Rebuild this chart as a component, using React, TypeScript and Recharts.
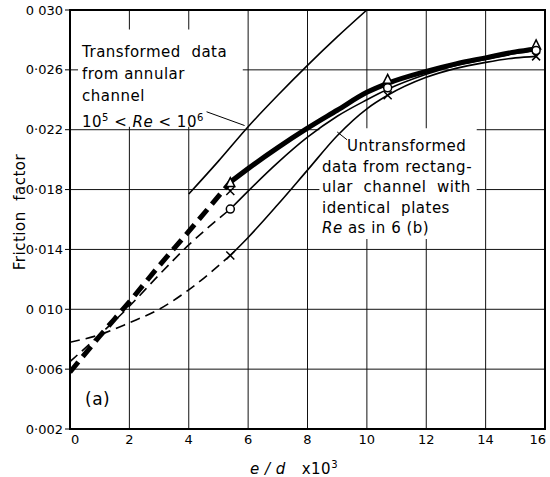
import React from 'react'
import {
  ComposedChart,
  Line,
  Scatter,
  XAxis,
  YAxis,
  CartesianGrid,
  ReferenceArea,
  ReferenceLine,
} from 'recharts'

const xTicks = [0, 2, 4, 6, 8, 10, 12, 14, 16]
const yTicks = [0.002, 0.006, 0.01, 0.014, 0.018, 0.022, 0.026, 0.03]
const yTickLabels = ['0·002', '0·006', '0 010', '0·014', '0·018', '0·022', '0·026', '0 030']

// transformed data, annular channel
const annularX = [4, 5, 6, 7, 8, 9, 10]
const annularY = [0.0177, 0.0199, 0.0222, 0.0243, 0.0263, 0.0282, 0.03]

// thick curve (triangles)
const thickDashX = [0, 1, 2, 3, 4, 5.4]
const thickDashY = [0.0058, 0.0082, 0.0105, 0.0129, 0.0152, 0.0185]
const thickX = [5.4, 6, 7, 8, 9, 10, 10.7, 12, 13, 14, 15, 15.7]
const thickY = [0.0185, 0.0194, 0.0208, 0.0221, 0.0233, 0.0245, 0.0251, 0.0259, 0.0264, 0.0268, 0.0272, 0.0274]

// circles
const circDashX = [0, 1, 2, 3, 4, 5.4]
const circDashY = [0.0065, 0.0083, 0.0102, 0.0123, 0.0143, 0.0167]
const circX = [5.4, 6, 7, 8, 9, 10, 10.7, 12, 13, 14, 15, 15.7]
const circY = [0.0167, 0.0179, 0.0198, 0.0215, 0.0229, 0.024, 0.0247, 0.0257, 0.0263, 0.0267, 0.0271, 0.0273]

// crosses (untransformed, rectangular channel)
const crossDashX = [0, 1, 2, 3, 4, 5.4]
const crossDashY = [0.0078, 0.0083, 0.0091, 0.01, 0.0113, 0.0136]
const crossX = [5.4, 6, 7, 8, 9, 10, 10.7, 12, 13, 14, 15, 15.7]
const crossY = [0.0136, 0.0148, 0.017, 0.0193, 0.0216, 0.0234, 0.0243, 0.0255, 0.0261, 0.0265, 0.0268, 0.0269]

// markers
const triMarkX = [5.4, 10.7, 15.7]
const triMarkY = [0.0184, 0.0253, 0.0276]
const circMarkX = [5.4, 10.7, 15.7]
const circMarkY = [0.0167, 0.0248, 0.0273]
const crossMarkX = [5.4, 5.4, 10.7, 15.7]
const crossMarkY = [0.0179, 0.0136, 0.0243, 0.0269]

const pts = (xs: number[], ys: number[]) => xs.map((x, i) => ({ x, y: ys[i] }))

const font = '"DejaVu Sans", sans-serif'

const Triangle = (p: any) => (
  <path
    d={`M${p.cx},${p.cy - 6} L${p.cx + 4.5},${p.cy + 3} L${p.cx - 4.5},${p.cy + 3} Z`}
    fill="#fff"
    stroke="#000"
    strokeWidth={1.5}
  />
)
const Circle = (p: any) => <circle cx={p.cx} cy={p.cy} r={4} fill="#fff" stroke="#000" strokeWidth={1.5} />
const Cross = (p: any) => (
  <path
    d={`M${p.cx - 4},${p.cy - 4} L${p.cx + 4},${p.cy + 4} M${p.cx + 4},${p.cy - 4} L${p.cx - 4},${p.cy + 4}`}
    stroke="#000"
    strokeWidth={1.5}
  />
)

const XTick = (p: any) => {
  const v = p.payload.value
  const first = v === xTicks[0]
  const last = v === xTicks[xTicks.length - 1]
  return (
    <text
      x={first ? p.x + 1 : last ? p.x + 4 : p.x}
      y={p.y}
      dy="0.71em"
      textAnchor={first ? 'start' : last ? 'end' : 'middle'}
      fill="#000"
      fontSize={13}
      fontFamily={font}
    >
      {v}
    </text>
  )
}

const note = { position: 'absolute' as const, fontSize: 15, color: '#000', whiteSpace: 'pre' as const, letterSpacing: 0.5 }
const sup = { fontSize: 10, verticalAlign: 6 }

export default function App() {
  return (
    <div style={{ position: 'absolute', left: 0, top: 0, width: 550, height: 477, background: '#fff', fontFamily: font }}>
      <ComposedChart width={550} height={477} margin={{ top: 10, right: 5, bottom: 0, left: 0 }}>
        <CartesianGrid stroke="#111" strokeWidth={1} horizontalValues={yTicks} verticalValues={xTicks} />
        <XAxis
          dataKey="x"
          type="number"
          domain={[0, 16]}
          ticks={xTicks}
          allowDataOverflow
          height={48}
          tickSize={0}
          tickMargin={6}
          axisLine={false}
          tick={XTick}
        />
        <YAxis
          dataKey="y"
          type="number"
          domain={[0.002, 0.03]}
          ticks={yTicks}
          allowDataOverflow
          width={70}
          tickSize={5}
          tickMargin={2}
          axisLine={false}
          tickLine={{ stroke: '#000' }}
          tickFormatter={(v: number) => yTickLabels[yTicks.findIndex((t) => Math.abs(t - v) < 1e-6)] ?? ''}
          tick={{ fill: '#000', fontSize: 13, fontFamily: font }}
        />
        {/* white panels behind the notes */}
        <ReferenceArea x1={0.27} x2={5.82} y1={0.0222} y2={0.0287} fill="#fff" fillOpacity={1} stroke="none" />
        <ReferenceArea x1={8.4} x2={13.7} y1={0.0147} y2={0.0221} fill="#fff" fillOpacity={1} stroke="none" />

        <Line data={pts(annularX, annularY)} dataKey="y" type="monotone" stroke="#000" strokeWidth={1.6} dot={false} isAnimationActive={false} />
        <Line data={pts(thickDashX, thickDashY)} dataKey="y" type="monotone" stroke="#000" strokeWidth={5} strokeDasharray="13 7" dot={false} isAnimationActive={false} />
        <Line data={pts(thickX, thickY)} dataKey="y" type="monotone" stroke="#000" strokeWidth={5} dot={false} isAnimationActive={false} />
        <Line data={pts(circDashX, circDashY)} dataKey="y" type="monotone" stroke="#000" strokeWidth={1.6} strokeDasharray="10 6" dot={false} isAnimationActive={false} />
        <Line data={pts(circX, circY)} dataKey="y" type="monotone" stroke="#000" strokeWidth={1.6} dot={false} isAnimationActive={false} />
        <Line data={pts(crossDashX, crossDashY)} dataKey="y" type="monotone" stroke="#000" strokeWidth={1.6} strokeDasharray="10 6" dot={false} isAnimationActive={false} />
        <Line data={pts(crossX, crossY)} dataKey="y" type="monotone" stroke="#000" strokeWidth={1.6} dot={false} isAnimationActive={false} />

        <Scatter data={pts(triMarkX, triMarkY)} shape={Triangle} isAnimationActive={false} />
        <Scatter data={pts(circMarkX, circMarkY)} shape={Circle} isAnimationActive={false} />
        <Scatter data={pts(crossMarkX, crossMarkY)} shape={Cross} isAnimationActive={false} />

        <ReferenceLine segment={[{ x: 4.6, y: 0.0232 }, { x: 5.88, y: 0.02228 }]} stroke="#000" strokeWidth={1} />
        <ReferenceLine segment={[{ x: 9.33, y: 0.02133 }, { x: 9.0, y: 0.02185 }]} stroke="#000" strokeWidth={1} />

        <ReferenceArea x1={0} x2={16} y1={0.002} y2={0.03} fill="none" stroke="#000" strokeWidth={2} />
      </ComposedChart>

      <div style={{ ...note, left: 82, top: 41, lineHeight: '22px' }}>
        <div>Transformed  data</div>
        <div>from annular</div>
        <div>channel</div>
        <div>
          10<sup style={sup}>5</sup> &lt; <i>Re</i> &lt; 10<sup style={sup}>6</sup>
        </div>
      </div>

      <div style={{ ...note, left: 322, top: 136, lineHeight: '20.5px' }}>
        <div style={{ paddingLeft: 25 }}>Untransformed</div>
        <div>data from rectang-</div>
        <div>ular  channel  with</div>
        <div>identical  plates</div>
        <div>
          <i>Re</i> as in 6 (b)
        </div>
      </div>

      <div style={{ ...note, left: 85, top: 389, fontSize: 17, lineHeight: '20px' }}>(a)</div>

      <div
        style={{
          ...note,
          left: 20,
          top: 212,
          transform: 'translate(-50%, -50%) rotate(-90deg)',
        }}
      >
        Friction  factor
      </div>

      <div style={{ ...note, left: 250, top: 455, lineHeight: '20px' }}>
        <i>e / d</i>{'   '}x10<sup style={sup}>3</sup>
      </div>
    </div>
  )
}
